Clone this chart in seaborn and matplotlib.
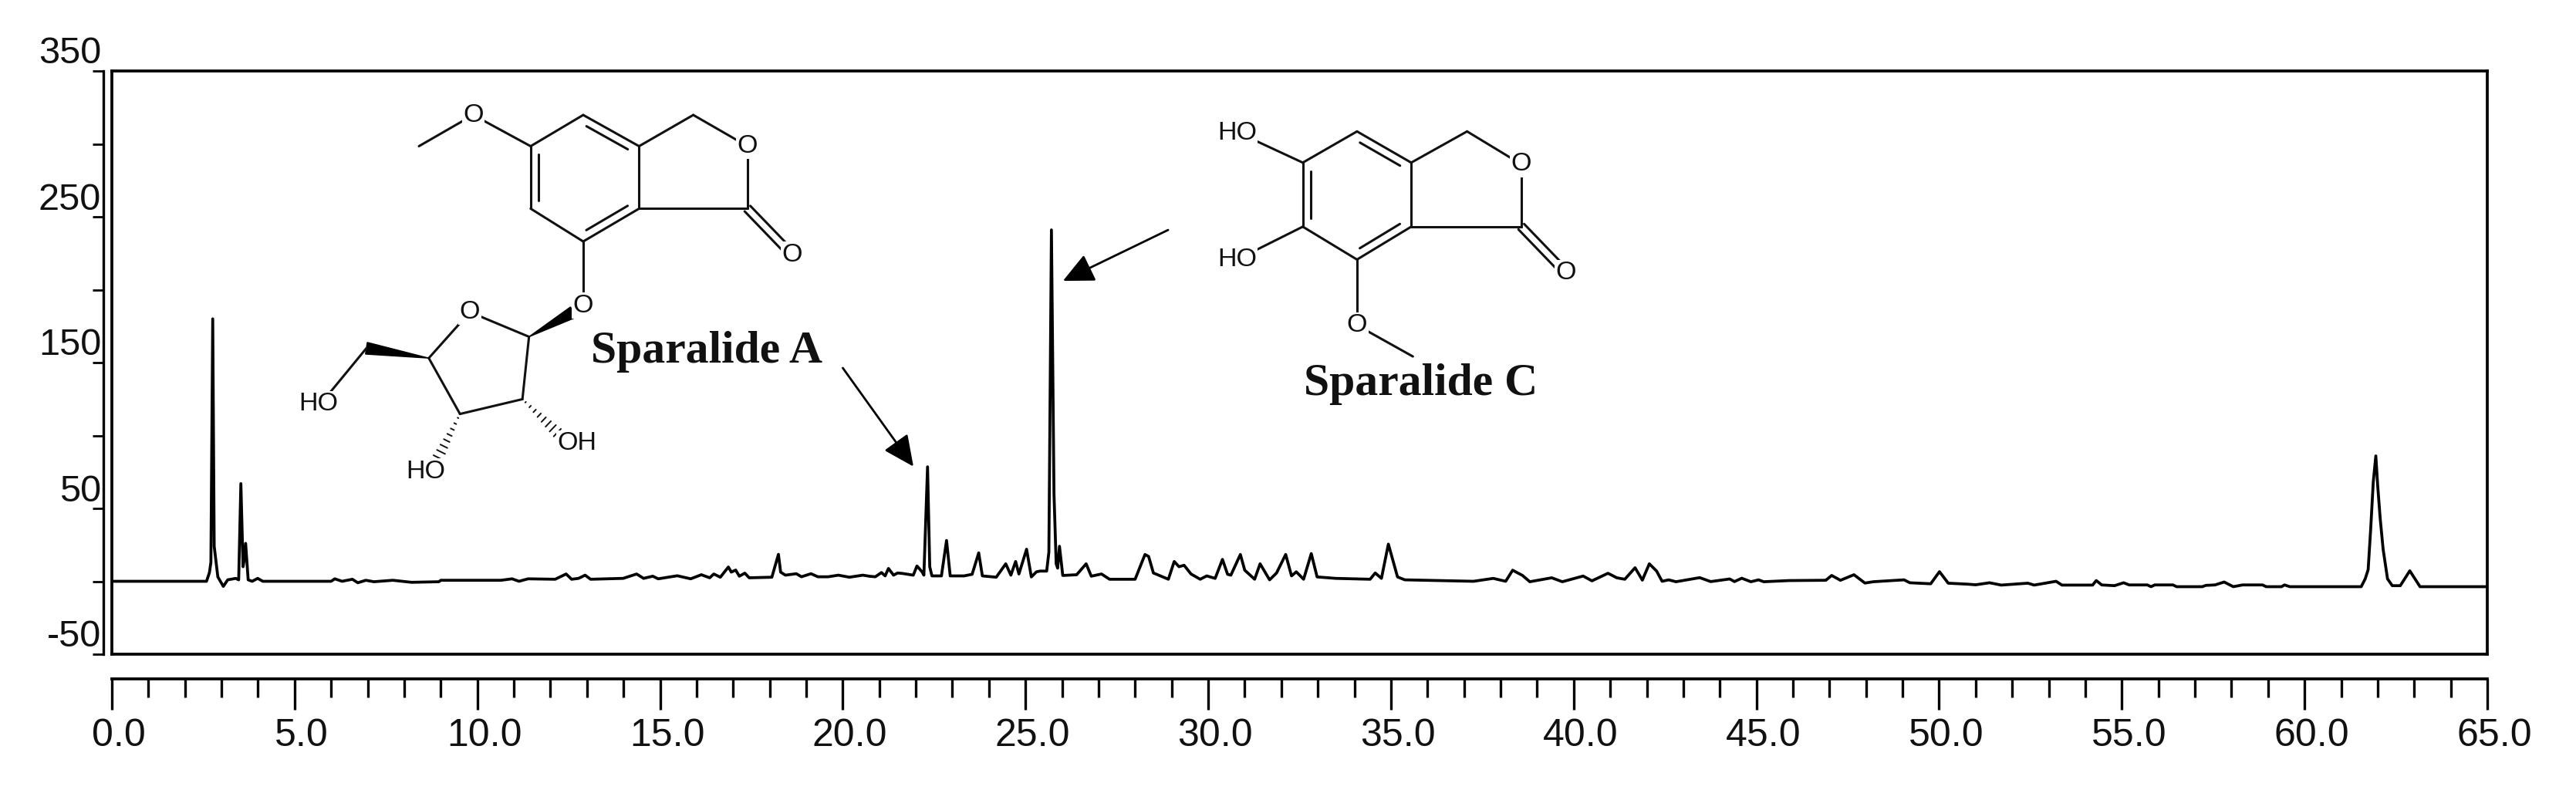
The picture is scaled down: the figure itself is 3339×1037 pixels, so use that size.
import numpy as np
import matplotlib
matplotlib.use("Agg")
import matplotlib.pyplot as plt
from matplotlib.patches import Polygon
from matplotlib.transforms import ScaledTranslation
import seaborn as sns

time_min = [
 0.0,2.5,2.59,2.67,2.71,2.76,2.8,2.9,3.05,3.17,3.39,3.47,3.53,3.59,3.61,3.66,3.73,3.84,3.99,4.13,
 6.0,6.1,6.3,6.58,6.73,6.95,7.17,7.69,8.2,8.95,9.0,10.65,10.95,11.14,11.39,12.13,12.43,12.58,12.77,12.95,
 13.1,13.99,14.36,14.55,14.8,14.95,15.47,15.84,16.13,16.36,16.47,16.65,16.87,16.95,17.07,17.17,17.32,17.44,18.06,18.24,
 18.3,18.43,18.73,18.87,19.13,19.32,19.6,19.88,20.18,20.55,20.75,20.89,21.06,21.16,21.25,21.39,21.5,21.63,21.93,22.03,
 22.17,22.22,22.32,22.38,22.44,22.7,22.84,22.94,23.32,23.54,23.72,23.82,24.2,24.46,24.6,24.73,24.82,25.03,25.16,25.3,
 25.4,25.58,25.64,25.71,25.78,25.84,25.88,25.93,26.02,26.4,26.66,26.8,27.08,27.3,28.0,28.27,28.37,28.5,28.91,29.07,
 29.2,29.34,29.53,29.78,29.96,30.19,30.39,30.53,30.62,30.88,31.0,31.27,31.42,31.68,31.87,32.12,32.28,32.41,32.61,32.82,
 32.98,33.49,34.43,34.57,34.74,34.93,35.18,35.38,37.26,37.8,38.14,38.33,38.6,38.8,39.4,39.69,40.26,40.5,40.94,41.18,
 41.4,41.68,41.88,42.07,42.27,42.42,42.6,42.8,43.45,43.75,44.27,44.4,44.6,44.85,45.06,45.2,45.9,46.9,47.06,47.3,
 47.67,47.97,48.2,49.04,49.2,49.77,50.01,50.25,50.8,51.0,51.38,51.7,52.43,52.6,53.2,53.36,54.2,54.3,54.45,54.8,
 55.05,55.2,55.7,55.8,55.9,56.4,56.5,57.2,57.3,57.55,57.8,58.05,58.3,58.85,58.95,59.37,59.45,59.6,61.55,61.66,
 61.74,61.81,61.88,61.95,62.0,62.07,62.15,62.27,62.4,62.62,62.88,63.16,65.0]
signal_mau = [
 0.0,0.0,0.0,6,13,180,24,3,-3.5,1,2,1,67,10,13,26,1,0,2,0,
 0,1.7,0,1.4,-1,0.7,-0.3,0.7,-0.7,-0.3,0.7,0.7,1.7,0,1.7,1.4,5,1.4,2,4.2,
 1.4,2,5,2,3.5,1.7,3.8,1.7,4.5,2.4,5,2.8,9.8,6.3,7.7,3.5,5.6,2.4,2.8,18.5,
 6.3,4.2,5.2,3.1,5.2,3.1,3.1,4.2,2.8,4.2,3.4,3.1,6,3.7,8.8,4.2,5.7,5.4,4.2,10.5,
 6.5,4.2,78.5,10,3.7,3.7,28,3.7,3.7,4.8,19.5,3.7,2.8,12,4.2,13.6,5,22,3,6.5,
 7,7,20,241,60,12,9,24,4,4.5,12,3.5,5,1.4,1.4,18.4,17,5.7,1.4,13.6,
 10,11,5,1.4,3.7,2,15,4.8,4.2,18.4,7.6,1.4,12,1,5.7,18.4,3.7,6.5,1.4,19,
 3,2,1.4,5.7,2,25.5,3,1,0,2,0,7.6,4,-0.3,2.4,-0.3,3.6,0.3,5.5,2.4,
 1.4,9.3,0.8,12,7,0,1,-0.3,2.5,-0.2,1.6,-0.2,2.1,-0.3,1,-0.3,0.5,0.7,4,0.7,
 4.5,-1.2,-0.3,1,-1,-1.7,6.6,-1.3,-2,-2.4,-1,-2.6,-1.3,-2.6,0,-2.6,-2.6,0.5,-2.5,-3,
 -1,-2.5,-2.5,-3.7,-2.5,-2.5,-3.7,-3.7,-2.8,-2.5,-0.5,-3.7,-2.5,-2.5,-3.7,-3.7,-2.5,-3.7,-3.7,1.7,
 8,36,68,86,66,43,22,1.7,-3,-3,7.2,-3.7,-3.7]
y_major = [-50, 50, 150, 250, 350]
y_minor = [0, 100, 200, 300]
y_labels = ["-50", "50", "150", "250", "350"]
x_major = [0, 5, 10, 15, 20, 25, 30, 35, 40, 45, 50, 55, 60, 65]
x_labels = ["0.0", "5.0", "10.0", "15.0", "20.0", "25.0", "30.0", "35.0", "40.0",
            "45.0", "50.0", "55.0", "60.0", "65.0"]
compound_labels = ["Sparalide A", "Sparalide C"]

W, H = 3339, 1037
DPI = 100
sns.set_theme(style="white")
plt.rcParams["font.family"] = ["Liberation Sans", "DejaVu Sans"]

fig = plt.figure(figsize=(W / DPI, H / DPI), dpi=DPI, facecolor="white")
L, R, T, B = 145, 3224, 92, 848
ax = fig.add_axes([L / W, 1 - B / H, (R - L) / W, (B - T) / H])
sns.lineplot(x=time_min, y=signal_mau, estimator=None, sort=False, color="black",
             linewidth=2.7, ax=ax)
ax.set_xlim(0, 65)
ax.set_ylim(-50, 350)
ax.set_xticks([]); ax.set_yticks([])
ax.set_xlabel(""); ax.set_ylabel("")
for s in ax.spines.values():
    s.set_visible(True); s.set_color("black"); s.set_linewidth(2.7)

# detached y scale
ay = ax.twinx()
ay.set_ylim(-50, 350)
ay.yaxis.tick_left()
ay.yaxis.set_label_position("left")
for n in ("top", "right", "bottom"):
    ay.spines[n].set_visible(False)
ay.spines["left"].set_visible(True)
ay.spines["left"].set_position(("outward", 8))
ay.spines["left"].set_color("black")
ay.spines["left"].set_linewidth(2.4)
ay.set_yticks(y_major)
ay.set_yticklabels(y_labels)
ay.set_yticks(y_minor, minor=True)
ay.tick_params(axis="y", which="both", direction="out", length=10, width=2, color="black",
               left=True, right=False, labelleft=True, labelright=False)
ay.tick_params(axis="y", which="major", labelsize=35, pad=-8, labelcolor="#111111")
for lab in ay.get_yticklabels():
    lab.set_transform(lab.get_transform() + ScaledTranslation(0, 0.27, fig.dpi_scale_trans))

# detached x scale, hanging comb
ax2 = ax.twiny()
ax2.set_xlim(0, 65)
ax2.xaxis.tick_bottom()
for n in ("top", "left", "right"):
    ax2.spines[n].set_visible(False)
ax2.spines["bottom"].set_visible(True)
ax2.spines["bottom"].set_position(("outward", 23))
ax2.spines["bottom"].set_color("black")
ax2.spines["bottom"].set_linewidth(2.7)
ax2.set_xticks(x_major)
ax2.set_xticklabels(x_labels)
ax2.set_xticks(np.arange(0, 66, 1), minor=True)
ax2.tick_params(axis="x", which="major", direction="out", length=29, width=2.4, color="black",
                labelsize=36, pad=8, labelcolor="#111111", bottom=True, top=False)
ax2.tick_params(axis="x", which="minor", direction="out", length=17, width=2.4, color="black",
                bottom=True, top=False)
for lab in ax2.get_xticklabels():
    lab.set_transform(lab.get_transform() + ScaledTranslation(0.09, 0, fig.dpi_scale_trans))

# overlay for the structure drawings, in thumbnail units of the figure
ov = fig.add_axes([0, 0, 1, 1], facecolor="none")
ov.set_xlim(0, 1568); ov.set_ylim(487, 0); ov.axis("off")
LW = 2.2

def bond(p, q, lw=LW):
    ov.plot([p[0], q[0]], [p[1], q[1]], color="#111111", lw=lw, solid_capstyle="round", zorder=3)

def inner(p, q, c, off=5.0, shrink=0.13):
    p, q, c = map(np.array, (p, q, c))
    d = (q - p) / np.linalg.norm(q - p)
    n = np.array([-d[1], d[0]])
    if np.dot(n, c - p) < 0:
        n = -n
    a = p + (q - p) * shrink + n * off
    b = q - (q - p) * shrink + n * off
    bond(a, b)

def double_out(p, q, off=2.4):
    p, q = map(np.array, (p, q))
    d = (q - p) / np.linalg.norm(q - p)
    n = np.array([-d[1], d[0]])
    bond(p + n * off, q + n * off); bond(p - n * off, q - n * off)

def wedge(p, q, w=3.6):
    p, q = map(np.array, (p, q))
    d = (q - p) / np.linalg.norm(q - p)
    n = np.array([-d[1], d[0]])
    ov.add_patch(Polygon([p, q + n * w, q - n * w], closed=True, color="black", zorder=3))

def hashed(p, q, w=3.6, k=9):
    p, q = map(np.array, (p, q))
    d = (q - p) / np.linalg.norm(q - p)
    n = np.array([-d[1], d[0]])
    for f in np.linspace(0.08, 1, k):
        c = p + (q - p) * f
        bond(c - n * w * f, c + n * w * f, lw=1.4)

def atom(x, y, s, **kw):
    ov.text(x, y, s, ha="center", va="center", fontsize=24.5, color="#111111", zorder=5,
            bbox=dict(facecolor="white", edgecolor="none", pad=1.0), **kw)

def lactone(a, b, c, d, e, f, g, h, i, j):
    for u, v in ((a, b), (b, c), (c, d), (d, e), (e, f), (f, a), (c, g), (g, h), (h, i), (i, d)):
        bond(u, v)
    cen = tuple(np.mean([a, b, c, d, e, f], axis=0))
    inner(a, f, cen); inner(b, c, cen); inner(d, e, cen)
    double_out(i, j)
    atom(h[0], h[1], "O"); atom(j[0], j[1], "O")

# Sparalide A
a = [(323, 89), (355, 70), (389, 89), (389, 127), (355, 147), (323, 127)]
lactone(a[0], a[1], a[2], a[3], a[4], a[5], (422, 70), (455, 89), (455, 127), (482, 155))
bond((255, 89), (288, 70)); bond((288, 70), a[0]); atom(288, 70, "O")
bond(a[4], (355, 186))
s = dict(o=(286, 190), c1=(322, 205), c2=(318, 243), c3=(280, 252), c4=(261, 218))
bond(s["o"], s["c1"]); bond(s["c1"], s["c2"]); bond(s["c2"], s["c3"]); bond(s["c3"], s["c4"]); bond(s["c4"], s["o"])
atom(286, 190, "O")
wedge(s["c1"], (349, 190)); atom(355, 186, "O")
wedge(s["c4"], (223, 212)); bond((223, 212), (200, 240)); atom(194, 246, "HO")
hashed(s["c3"], (265, 282)); atom(259, 287, "HO")
hashed(s["c2"], (342, 266)); atom(351, 270, "OH")

# Sparalide C
c = [(793, 99), (826, 80), (859, 99), (859, 138), (826, 158), (793, 138)]
lactone(c[0], c[1], c[2], c[3], c[4], c[5], (893, 80), (926, 100), (926, 138), (953, 166))
bond((765, 86), c[0]); atom(753, 81, "HO")
bond((765, 152), c[5]); atom(753, 158, "HO")
bond(c[4], (826, 198)); bond((826, 198), (860, 217)); atom(826, 198, "O")

# compound names and arrows
serif = dict(family="Liberation Serif", weight="bold", fontsize=43, color="#111111", ha="center", va="center", zorder=5)
ov.text(430, 214, compound_labels[0], **serif)
ov.text(865, 234, compound_labels[1], **serif)
arrow = dict(arrowstyle="-|>,head_length=0.85,head_width=0.40", color="black", lw=2.0,
             mutation_scale=29, shrinkA=0, shrinkB=0)
ov.annotate("", xy=(556, 284), xytext=(513, 224), arrowprops=arrow, zorder=4)
ov.annotate("", xy=(647, 171), xytext=(711, 140), arrowprops=arrow, zorder=4)

fig.savefig("out.png", dpi=DPI, facecolor="white")
